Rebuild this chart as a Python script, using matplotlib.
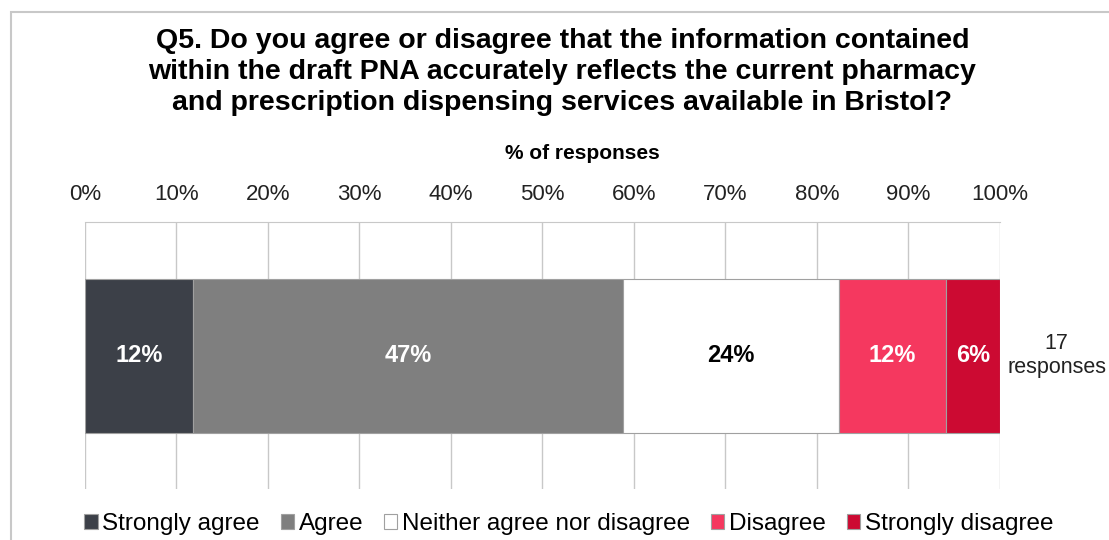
import numpy as np
import matplotlib

matplotlib.use('Agg')
import matplotlib.pyplot as plt
from matplotlib.patches import Rectangle, Patch

plt.rcParams['font.family'] = ['Liberation Sans', 'DejaVu Sans']

# responses per answer (17 in total)
categories = ['Strongly agree', 'Agree', 'Neither agree nor disagree', 'Disagree', 'Strongly disagree']
counts = [2, 8, 4, 2, 1]
colors = ['#3c4048', '#7f7f7f', '#ffffff', '#f5385f', '#cc0a32']
label_colors = ['white', 'white', 'black', 'white', 'white']
ticks = [0, 10, 20, 30, 40, 50, 60, 70, 80, 90, 100]
title = ('Q5. Do you agree or disagree that the information contained\n'
         'within the draft PNA accurately reflects the current pharmacy\n'
         'and prescription dispensing services available in Bristol?')

total = sum(counts)
pcts = np.array(counts) / total * 100

fig = plt.figure(figsize=(11.09, 5.4), dpi=100)
ax = fig.add_axes([0.0766, 0.0944, 0.8251, 0.4944])

# outer frame (light grey, open at right/bottom)
fig.add_artist(Rectangle((11 / 1109, -0.1), 1.2, 1 - 12 / 540 + 0.1, transform=fig.transFigure,
                         fill=False, edgecolor='#c8c8c8', linewidth=1.5))

left = 0
for i in range(len(counts)):
    ax.barh(0, pcts[i], left=left, height=0.577, color=colors[i], edgecolor='#a0a0a0',
            linewidth=0.8, zorder=3)
    ax.text(left + pcts[i] / 2, 0, '%d%%' % round(pcts[i]), ha='center', va='center',
            fontsize=17, fontweight='bold', color=label_colors[i], zorder=4)
    left += pcts[i]

ax.text(1.062, 0.5, '%d\nresponses' % total, transform=ax.transAxes, ha='center', va='center',
        fontsize=15.5, color='#222222', linespacing=1.2)

ax.set_xlim(0, 100)
ax.set_ylim(-0.5, 0.5)
ax.set_xticks(ticks)
ax.set_xticklabels(['%d%%' % t for t in ticks], fontsize=16, color='#222222')
ax.set_yticks([])
ax.xaxis.tick_top()
ax.tick_params(axis='x', length=0, pad=12)
ax.text(0.544, 1.258, '% of responses', transform=ax.transAxes, ha='center', va='center',
        fontsize=15, fontweight='bold')
ax.grid(axis='x', color='#c8c8c8', linewidth=1, zorder=0)
for s in ['right', 'bottom', 'left']:
    ax.spines[s].set_visible(False)
ax.spines['top'].set_color('#c8c8c8')

fig.text(0.507, 0.867, title, ha='center', va='center', fontsize=20.5, fontweight='bold',
         linespacing=1.25)

handles = [Patch(facecolor=colors[i], edgecolor='#a0a0a0', linewidth=0.8) for i in range(len(categories))]
fig.legend(handles, categories, loc='center', bbox_to_anchor=(0.513, 0.03), ncol=5, frameon=False,
           fontsize=17.5, handlelength=0.55, handleheight=0.55, handletextpad=0.2, columnspacing=0.85)

fig.savefig('out.png', dpi=100)
